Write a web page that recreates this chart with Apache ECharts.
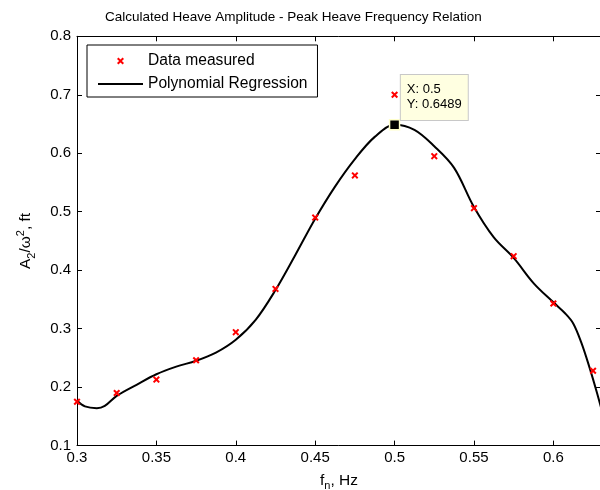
<!DOCTYPE html>
<html>
<head>
<meta charset="utf-8">
<script src="https://cdn.jsdelivr.net/npm/echarts@6/dist/echarts.min.js"></script>
<style>html,body{margin:0;padding:0;background:#fff}#c{width:600px;height:490px}</style>
</head>
<body>
<div id="c"></div>
<script>
// ---- data ----
const titleText = 'Calculated Heave Amplitude - Peak Heave Frequency Relation';
const seriesNames = ['Data measured', 'Polynomial Regression'];

const measuredX = [0.3, 0.325, 0.35, 0.375, 0.4, 0.425, 0.45, 0.475, 0.5, 0.525, 0.55, 0.575, 0.6, 0.625];
const measuredY = [0.175, 0.19, 0.213, 0.246, 0.294, 0.368, 0.49, 0.562, 0.70, 0.595, 0.506, 0.424, 0.343, 0.228];

const curveX = [0.3, 0.305, 0.3125, 0.3175, 0.325, 0.3375, 0.35, 0.3625, 0.375, 0.3875, 0.4, 0.4125, 0.425,
                0.4375, 0.45, 0.4625, 0.475, 0.4875, 0.5, 0.5125, 0.525, 0.5375, 0.55, 0.5625, 0.575, 0.5875,
                0.6, 0.6075, 0.6125, 0.6175, 0.6225, 0.6275, 0.6325];
const curveY = [0.177, 0.167, 0.164, 0.168, 0.185, 0.204, 0.222, 0.235, 0.245, 0.259, 0.281, 0.315, 0.366,
                0.426, 0.488, 0.543, 0.590, 0.628, 0.6489, 0.640, 0.612, 0.575, 0.508, 0.456, 0.421, 0.378,
                0.345, 0.326, 0.309, 0.277, 0.236, 0.190, 0.140];

const tipX = 0.5;
const tipY = 0.6489;

const xMin = 0.3, xMax = 0.63, xStep = 0.05;
const yMin = 0.1, yMax = 0.8, yStep = 0.1;

// ---- chart ----
const FONT = 'Liberation Sans, Arial, Helvetica, sans-serif';
const xMarker = 'path://M0,2L2,0L5,3L8,0L10,2L7,5L10,8L8,10L5,7L2,10L0,8L3,5Z';

const scatterData = measuredX.map((x, i) => [x, measuredY[i]]);
const curveData = curveX.map((x, i) => [x, curveY[i]]);

const richName = {
  a: {fontSize: 15.5, lineHeight: 22, fontFamily: FONT, color: '#000'},
  sub: {fontSize: 11, lineHeight: 11, verticalAlign: 'bottom', fontFamily: FONT, color: '#000'},
  sup: {fontSize: 11, lineHeight: 11, verticalAlign: 'top', fontFamily: FONT, color: '#000'}
};

const axisCommon = {
  type: 'value',
  axisLine: {onZero: false, lineStyle: {color: '#000', width: 1}},
  axisTick: {inside: true, length: 5, lineStyle: {color: '#000', width: 1}},
  splitLine: {show: false}
};

const chart = echarts.init(document.getElementById('c'), null, {renderer: 'canvas'});
chart.setOption({
  animation: false,
  backgroundColor: '#fff',
  title: {
    text: titleText, left: 105, top: 10, padding: 0,
    textStyle: {fontSize: 13.5, fontWeight: 'normal', color: '#000', fontFamily: FONT}
  },
  legend: {
    orient: 'vertical', left: 87, top: 45,
    padding: [8, 10, 5, 10], itemGap: 7, itemWidth: 45, itemHeight: 7, itemTextGap: 8,
    borderColor: '#000', borderWidth: 1, backgroundColor: '#fff', borderRadius: 0,
    textStyle: {fontSize: 15.6, color: '#000', fontFamily: FONT},
    data: [
      {name: seriesNames[0], icon: xMarker},
      {name: seriesNames[1], itemStyle: {opacity: 0}}
    ]
  },
  grid: {left: 77, right: -1, top: 36.3, height: 409.3, containLabel: false, outerBoundsMode: 'none'},
  xAxis: [
    Object.assign({}, axisCommon, {
      min: xMin, max: xMax, interval: xStep, position: 'bottom',
      axisLabel: {color: '#000', fontSize: 15, fontFamily: FONT, margin: 5, showMaxLabel: false},
      name: '{a|f}{sub|n}{a|, Hz}', nameLocation: 'middle', nameGap: 24,
      nameTextStyle: {rich: richName}
    }),
    Object.assign({}, axisCommon, {
      min: xMin, max: xMax, interval: xStep, position: 'top',
      axisLabel: {show: false}
    })
  ],
  yAxis: [
    Object.assign({}, axisCommon, {
      min: yMin, max: yMax, interval: yStep, position: 'left',
      axisLabel: {color: '#000', fontSize: 15, fontFamily: FONT, margin: 6},
      name: '{a|A}{sub|2}{a|/ω}{sup|2}{a|, ft}', nameLocation: 'middle', nameGap: 40, nameRotate: 90,
      nameTextStyle: {rich: richName}
    }),
    Object.assign({}, axisCommon, {
      min: yMin, max: yMax, interval: yStep, position: 'right',
      axisLabel: {show: false}
    })
  ],
  series: [
    {
      name: seriesNames[0], type: 'scatter', xAxisIndex: 0, yAxisIndex: 0,
      data: scatterData, symbol: xMarker, symbolSize: 7,
      itemStyle: {color: '#ff0000', opacity: 1}, z: 3
    },
    {
      name: seriesNames[1], type: 'line', xAxisIndex: 0, yAxisIndex: 0,
      data: curveData, symbol: 'none', showSymbol: false, smooth: 0.35,
      color: '#000', lineStyle: {color: '#000', width: 2}, z: 2,
      markPoint: {
        symbol: 'rect', symbolSize: 10, silent: true,
        itemStyle: {color: '#000', borderColor: '#ffffcc', borderWidth: 1.5},
        label: {
          show: true, position: [12, -44], align: 'left', verticalAlign: 'top',
          formatter: 'X: ' + tipX + '\nY: ' + tipY,
          fontSize: 13, lineHeight: 15, color: '#000', fontFamily: FONT,
          backgroundColor: '#ffffe1', borderColor: '#c8c8c8', borderWidth: 1,
          padding: [7, 6, 8, 6]
        },
        data: [{coord: [tipX, tipY]}]
      }
    }
  ]
});
</script>
</body>
</html>
